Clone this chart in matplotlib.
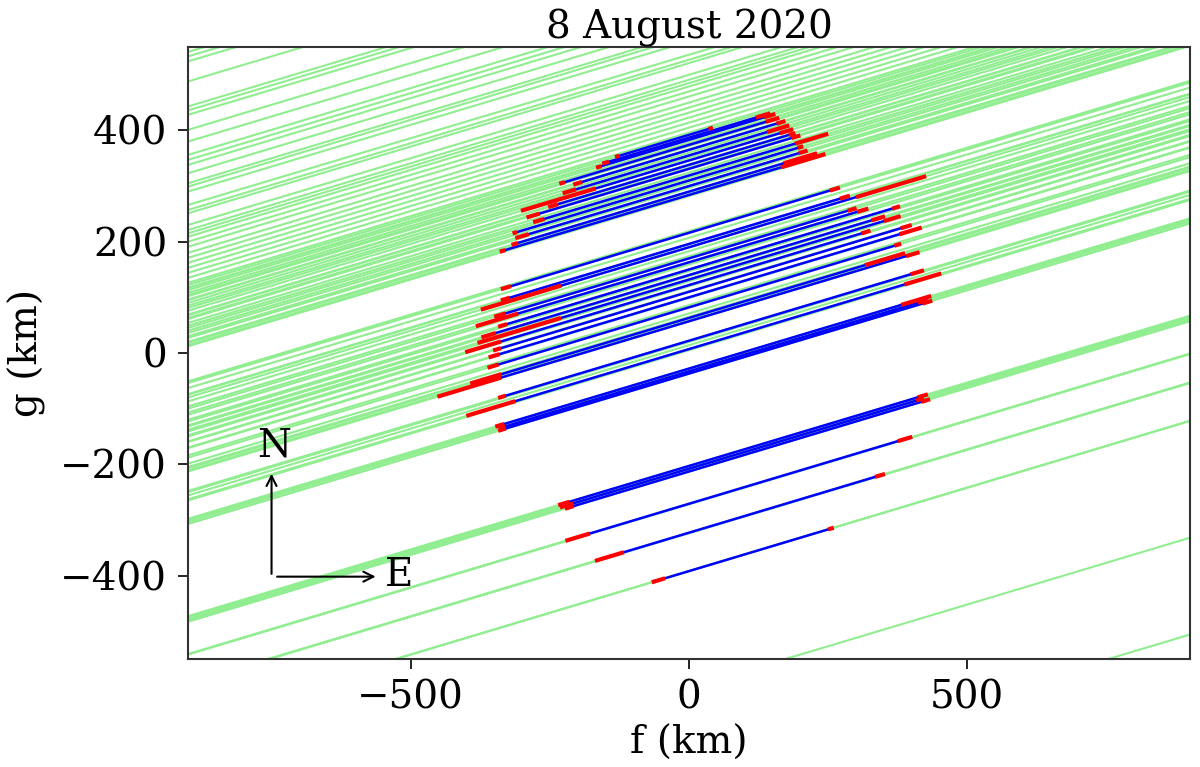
import numpy as np
import matplotlib.pyplot as plt

# shadow track direction: g = g0 + SLOPE * f
SLOPE = 0.3

# g at f = 0 for every observer line (km)
green_g0 = [811, 803, 794, 758, 713, 706, 698, 671, 650, 626, 617, 608, 593,
            575, 569, 560, 536, 527, 521, 500, 491, 485, 479, 470, 461,
            450, 441, 432, 423, 414, 405, 396, 387, 378, 372, 366, 360, 351,
            339, 333, 324, 315, 306, 297, 288, 282, 219, 207, 195, 183, 174,
            159, 147, 138, 129, 120, 111, 99, 86, 71, 65, 59, 20, 14, 5,
            -31, -37, -205, -211, -272, -324, -392, -602, -776]

# positive chords: g at f = 0, ingress f, ingress error, egress f, egress error
chord_g0 = [392, 387, 383, 374, 365, 355, 346, 338, 331, 319, 310, 300, 290, 284,
            216, 196, 190, 170, 163, 150, 140, 132, 122, 110, 100, 82, 63, 57,
            22, 7, -28, -33, -37,
            -203, -208, -213, -271, -323, -392]
chord_in = [-129, -150, -162, -228, -200, -215, -235, -244, -280, -270, -313, -300, -313, -335,
            -329, -330, -302, -340, -345, -335, -360, -305, -370, -345, -350, -352, -365, -395,
            -336, -356, -340, -336, -336,
            -225, -220, -215, -200, -143, -55]
chord_in_err = [4, 6, 5, 5, 8, 12, 67, 9, 12, 10, 4, 12, 6, 5,
                9, 8, 72, 10, 38, 8, 13, 75, 32, 7, 10, 10, 28, 57,
                7, 44, 8, 6, 7,
                10, 12, 8, 22, 26, 12]
chord_out = [39, 133, 145, 150, 165, 160, 175, 185, 192, 220, 200, 205, 200, 205,
             262, 280, 363, 293, 312, 372, 340, 365, 318, 390, 398, 375, 352, 402,
             410, 420, 408, 420, 428,
             420, 415, 425, 388, 343, 255]
chord_out_err = [4, 13, 10, 12, 8, 20, 12, 6, 8, 30, 5, 8, 30, 40,
                 9, 9, 63, 8, 10, 7, 12, 15, 8, 10, 20, 6, 36, 12,
                 12, 33, 27, 9, 9,
                 9, 7, 8, 13, 9, 5]

fig = plt.figure(figsize=(12, 7.67), dpi=100)
ax = fig.add_axes([0.1567, 0.1408, 0.835, 0.798])

xs = np.array([-1000, 1000])
for g0 in green_g0 + chord_g0:
    ax.plot(xs, g0 + SLOPE * xs, color='lightgreen', lw=1.5, zorder=1)

for g0, fi, ei, fo, eo in zip(chord_g0, chord_in, chord_in_err, chord_out, chord_out_err):
    f = np.array([fi, fo])
    ax.plot(f, g0 + SLOPE * f, color='blue', lw=1.8, zorder=2)
    for fc, e in ((fi, ei), (fo, eo)):
        fr = np.array([fc - e, fc + e])
        ax.plot(fr, g0 + SLOPE * fr, color='red', lw=3.0, zorder=3,
                solid_capstyle='butt')

# N / E compass
ax.annotate('', xy=(-750, -212), xytext=(-750, -402),
            arrowprops=dict(arrowstyle='->', color='k', lw=1.5, mutation_scale=18))
ax.annotate('', xy=(-558, -402), xytext=(-745, -402),
            arrowprops=dict(arrowstyle='->', color='k', lw=1.5, mutation_scale=18))
ax.text(-746, -168, 'N', ha='center', va='center', fontsize=28, family='DejaVu Serif')
ax.text(-521, -400, 'E', ha='center', va='center', fontsize=28, family='DejaVu Serif')

ax.set_xlim(-900, 900)
ax.set_ylim(-550, 550)
ax.set_xticks([-500, 0, 500])
ax.set_yticks([-400, -200, 0, 200, 400])
ax.tick_params(labelsize=28, length=7, width=1.2, pad=8)
for lab in ax.get_xticklabels() + ax.get_yticklabels():
    lab.set_family('DejaVu Serif')
ax.set_xlabel('f (km)', fontsize=28, family='DejaVu Serif', labelpad=6)
ax.set_ylabel('g (km)', fontsize=28, family='DejaVu Serif', labelpad=10)
ax.set_title('8 August 2020', fontsize=28, family='DejaVu Serif', pad=5)
for s in ax.spines.values():
    s.set_linewidth(1.5)
    s.set_color('#333333')

fig.savefig('out.png', dpi=100)
